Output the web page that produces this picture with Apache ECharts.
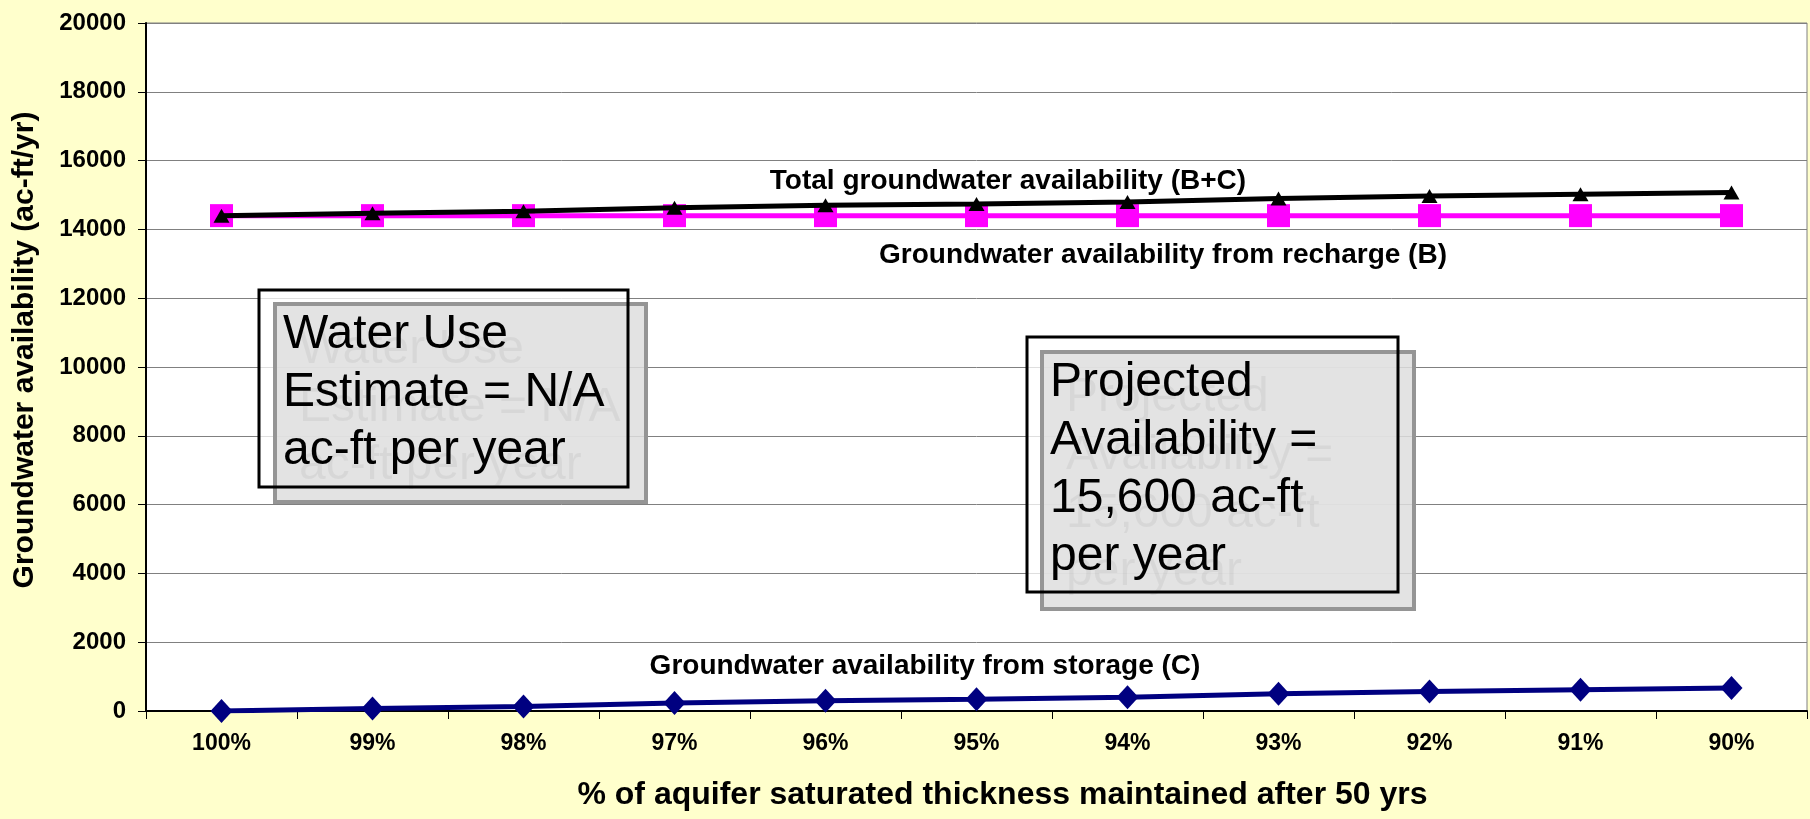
<!DOCTYPE html>
<html>
<head>
<meta charset="utf-8">
<title>Groundwater availability</title>
<script src="https://cdn.jsdelivr.net/npm/echarts@6/dist/echarts.min.js"></script>
<style>
  html, body { margin: 0; padding: 0; background: #FFFFCC; }
  #chart { width: 1810px; height: 819px; }
</style>
</head>
<body>
<div id="chart"></div>
<script>
// Chart data
const categories = ['100%', '99%', '98%', '97%', '96%', '95%', '94%', '93%', '92%', '91%', '90%'];
const totalAvail = [14400, 14470, 14530, 14630, 14700, 14740, 14800, 14900, 14970, 15020, 15070];
const rechargeAvail = [14400, 14400, 14400, 14400, 14400, 14400, 14400, 14400, 14400, 14400, 14400];
const storageAvail = [0, 70, 130, 235, 300, 340, 400, 500, 570, 620, 670];

const yTicks = { min: 0, max: 20000, interval: 2000 };

const fontName = '"Liberation Sans", Arial, sans-serif';

// Text box helper: white front box, grey shadow box with faint ghost text
function noteBox(front, back, lines, textX, firstBase, lineGap) {
  const els = [];
  const size = 48;
  const midOffset = Math.round(size * 0.32) - 3; // baseline -> middle
  els.push({
    type: 'rect', z: 10,
    shape: { x: front[0], y: front[1], width: front[2] - front[0], height: front[3] - front[1] },
    style: { fill: 'rgba(255,255,255,0.75)', stroke: null }
  });
  els.push({
    type: 'rect', z: 11,
    shape: { x: back[0], y: back[1], width: back[2] - back[0], height: back[3] - back[1] },
    style: { fill: 'rgba(222,222,222,0.85)', stroke: '#959595', lineWidth: 4 }
  });
  lines.forEach((t, i) => {
    els.push({
      type: 'text', z: 12,
      style: {
        text: t, x: textX + 16, y: firstBase - midOffset + 15 + i * lineGap,
        fill: 'rgba(0,0,0,0.05)', font: size + 'px ' + fontName, verticalAlign: 'middle'
      }
    });
  });
  els.push({
    type: 'rect', z: 13,
    shape: { x: front[0], y: front[1], width: front[2] - front[0], height: front[3] - front[1] },
    style: { fill: null, stroke: '#000000', lineWidth: 3 }
  });
  lines.forEach((t, i) => {
    els.push({
      type: 'text', z: 14,
      style: {
        text: t, x: textX, y: firstBase - midOffset + i * lineGap,
        fill: '#000000', font: size + 'px ' + fontName, verticalAlign: 'middle'
      }
    });
  });
  return els;
}

function seriesLabel(text, cx, cy) {
  return {
    type: 'text', z: 20,
    style: {
      text: text, x: cx, y: cy, align: 'center', verticalAlign: 'middle',
      fill: '#000000', font: 'bold 28px ' + fontName
    }
  };
}

const chart = echarts.init(document.getElementById('chart'));

const option = {
  backgroundColor: '#FFFFCC',
  animation: false,
  grid: {
    left: 146, right: 3, top: 23, bottom: 108,
    show: true, backgroundColor: '#FFFFFF', borderColor: '#808080', borderWidth: 1
  },
  xAxis: {
    type: 'category',
    data: categories,
    boundaryGap: true,
    name: '% of aquifer saturated thickness maintained after 50 yrs',
    nameLocation: 'middle',
    nameGap: 68,
    nameTextStyle: { color: '#000', fontFamily: fontName, fontWeight: 'bold', fontSize: 32, padding: [0, 0, 0, 52] },
    axisLine: { lineStyle: { color: '#000000', width: 2 } },
    axisTick: { show: true, alignWithLabel: false, length: 8, lineStyle: { color: '#000' } },
    axisLabel: { color: '#000', fontFamily: fontName, fontWeight: 'bold', fontSize: 23, margin: 21 },
    splitLine: { show: false }
  },
  yAxis: {
    type: 'value',
    min: yTicks.min, max: yTicks.max, interval: yTicks.interval,
    name: 'Groundwater availability (ac-ft/yr)',
    nameLocation: 'middle',
    nameGap: 106,
    nameTextStyle: { color: '#000', fontFamily: fontName, fontWeight: 'bold', fontSize: 30, padding: [0, 0, 0, 34] },
    axisLine: { show: true, lineStyle: { color: '#000000', width: 2 } },
    axisTick: { show: true, length: 8, lineStyle: { color: '#000' } },
    axisLabel: { color: '#000', fontFamily: fontName, fontWeight: 'bold', fontSize: 24, margin: 20,
      formatter: v => String(v) },
    splitLine: { lineStyle: { color: '#808080', width: 1 } }
  },
  series: [
    {
      name: 'Groundwater availability from recharge (B)',
      type: 'line',
      data: rechargeAvail,
      symbol: 'rect', symbolSize: 23,
      lineStyle: { color: '#FF00FF', width: 5 },
      itemStyle: { color: '#FF00FF' },
      z: 3
    },
    {
      name: 'Total groundwater availability (B+C)',
      type: 'line',
      data: totalAvail,
      symbol: 'triangle', symbolSize: [16, 14],
      lineStyle: { color: '#000000', width: 5 },
      itemStyle: { color: '#000000' },
      z: 4
    },
    {
      name: 'Groundwater availability from storage (C)',
      type: 'line',
      data: storageAvail,
      symbol: 'diamond', symbolSize: [22, 24],
      lineStyle: { color: '#000080', width: 5 },
      itemStyle: { color: '#000080' },
      z: 3
    }
  ],
  graphic: [
    seriesLabel('Total groundwater availability (B+C)', 1008, 181),
    seriesLabel('Groundwater availability from recharge (B)', 1163, 255),
    seriesLabel('Groundwater availability from storage (C)', 925, 666)
  ]
    .concat(noteBox([259, 290, 628, 487], [275, 304, 646, 502],
      ['Water Use', 'Estimate = N/A', 'ac-ft per year'], 283, 347, 58))
    .concat(noteBox([1027, 337, 1398, 592], [1042, 352, 1414, 609],
      ['Projected', 'Availability =', '15,600 ac-ft', 'per year'], 1050, 395, 58))
};

chart.setOption(option);

window.addEventListener('resize', () => chart.resize());
</script>
</body>
</html>
